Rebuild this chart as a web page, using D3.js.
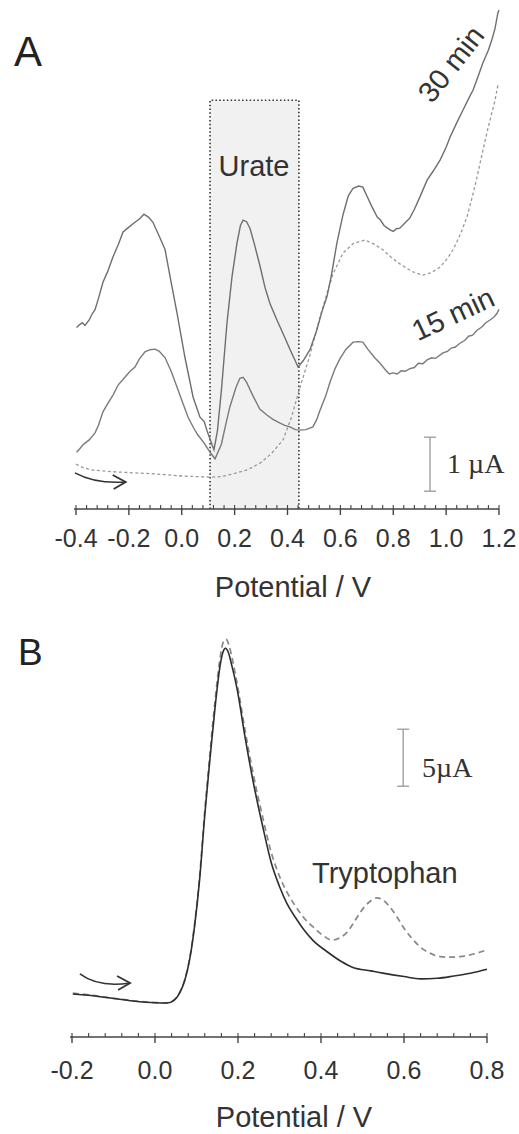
<!DOCTYPE html>
<html><head><meta charset="utf-8">
<script src="https://cdn.jsdelivr.net/npm/d3@7"></script>
<style>body{margin:0;background:#fff}svg{display:block}</style>
</head><body>
<svg id="c" width="519" height="1134"></svg>
<script>
// ---------- Panel A data (Potential V, current µA) ----------
const aTicks = [-0.4,-0.2,0.0,0.2,0.4,0.6,0.8,1.0,1.2];
const aTickLabels = ["-0.4","-0.2","0.0","0.2","0.4","0.6","0.8","1.0","1.2"];
const a30min = [[-0.398,3.36],[-0.385,3.42],[-0.376,3.45],[-0.366,3.40],[-0.350,3.50],[-0.338,3.62],[-0.328,3.69],[-0.315,3.90],[-0.298,4.20],[-0.280,4.40],[-0.260,4.67],[-0.240,4.90],[-0.222,5.13],[-0.200,5.22],[-0.177,5.31],[-0.160,5.37],[-0.143,5.46],[-0.125,5.40],[-0.109,5.31],[-0.085,5.05],[-0.063,4.80],[-0.044,4.30],[-0.018,3.63],[0.012,2.81],[0.043,2.07],[0.069,1.70],[0.085,1.62],[0.095,1.46],[0.114,1.20],[0.122,1.10],[0.135,1.45],[0.150,2.20],[0.171,3.44],[0.190,4.30],[0.209,4.93],[0.222,5.25],[0.232,5.35],[0.245,5.32],[0.258,5.20],[0.275,4.90],[0.296,4.50],[0.315,4.10],[0.334,3.80],[0.360,3.50],[0.383,3.25],[0.410,2.95],[0.440,2.63],[0.460,2.75],[0.485,2.95],[0.510,3.30],[0.530,3.65],[0.549,3.93],[0.565,4.30],[0.587,4.93],[0.610,5.45],[0.630,5.80],[0.648,5.94],[0.670,5.98],[0.685,5.96],[0.700,5.80],[0.720,5.59],[0.740,5.40],[0.750,5.36],[0.765,5.25],[0.788,5.17],[0.800,5.14],[0.812,5.19],[0.825,5.20],[0.845,5.30],[0.863,5.39],[0.880,5.55],[0.901,5.78],[0.928,6.09],[0.950,6.25],[0.977,6.46],[1.000,6.70],[1.015,6.89],[1.040,7.15],[1.064,7.39],[1.085,7.60],[1.102,7.76],[1.120,8.00],[1.139,8.26],[1.160,8.50],[1.173,8.69],[1.185,8.90],[1.196,9.19],[1.200,9.24]];
const a15min = [[-0.398,1.05],[-0.385,1.12],[-0.375,1.18],[-0.366,1.22],[-0.350,1.28],[-0.328,1.41],[-0.315,1.55],[-0.298,1.80],[-0.280,1.95],[-0.260,2.11],[-0.240,2.30],[-0.215,2.44],[-0.195,2.55],[-0.177,2.63],[-0.160,2.78],[-0.139,2.91],[-0.120,2.95],[-0.101,2.96],[-0.085,2.92],[-0.063,2.80],[-0.040,2.55],[-0.018,2.26],[0.005,1.95],[0.024,1.70],[0.045,1.50],[0.061,1.37],[0.085,1.22],[0.107,1.05],[0.126,0.93],[0.150,1.20],[0.168,1.60],[0.182,1.89],[0.205,2.25],[0.220,2.42],[0.232,2.44],[0.245,2.35],[0.269,2.10],[0.295,1.85],[0.322,1.74],[0.345,1.66],[0.372,1.59],[0.390,1.55],[0.409,1.52],[0.430,1.47],[0.447,1.46],[0.470,1.47],[0.496,1.52],[0.510,1.65],[0.523,1.83],[0.545,2.10],[0.561,2.35],[0.580,2.60],[0.598,2.78],[0.620,2.95],[0.648,3.09],[0.668,3.10],[0.685,3.09],[0.705,2.95],[0.730,2.80],[0.750,2.70],[0.770,2.58],[0.785,2.50],[0.799,2.52],[0.815,2.50],[0.830,2.56],[0.845,2.55],[0.863,2.60],[0.880,2.62],[0.895,2.70],[0.912,2.69],[0.928,2.76],[0.945,2.80],[0.960,2.79],[0.988,2.89],[1.005,2.92],[1.020,2.98],[1.035,3.00],[1.052,3.07],[1.070,3.12],[1.085,3.20],[1.100,3.22],[1.117,3.31],[1.135,3.37],[1.150,3.45],[1.166,3.50],[1.180,3.55],[1.192,3.62],[1.200,3.70]];
const aBlank = [[-0.400,0.83],[-0.370,0.76],[-0.336,0.72],[-0.260,0.69],[-0.184,0.67],[-0.100,0.65],[0.005,0.61],[0.060,0.60],[0.107,0.59],[0.150,0.60],[0.194,0.65],[0.250,0.73],[0.296,0.85],[0.340,1.03],[0.383,1.28],[0.415,1.70],[0.447,2.25],[0.485,2.85],[0.523,3.56],[0.550,4.00],[0.572,4.35],[0.610,4.74],[0.650,4.92],[0.693,4.98],[0.730,4.90],[0.761,4.80],[0.795,4.65],[0.825,4.54],[0.870,4.40],[0.912,4.33],[0.945,4.38],[0.977,4.48],[1.005,4.64],[1.026,4.80],[1.055,5.10],[1.079,5.41],[1.100,5.80],[1.117,6.15],[1.135,6.55],[1.154,6.96],[1.170,7.28],[1.185,7.57],[1.196,7.85]];
const urateWindow = [0.107, 0.443];
const urateTop = 7.57;

// ---------- Panel B data ----------
const bTicks = [-0.2,0.0,0.2,0.4,0.6,0.8];
const bTickLabels = ["-0.2","0.0","0.2","0.4","0.6","0.8"];
const bSolid = [[-0.198,3.77],[-0.150,3.62],[-0.100,3.38],[-0.053,3.16],[0.000,3.00],[0.029,2.98],[0.045,3.20],[0.060,3.90],[0.072,5.00],[0.084,6.90],[0.095,9.60],[0.108,14.0],[0.120,19.5],[0.133,24.6],[0.145,29.0],[0.157,32.6],[0.164,33.8],[0.170,34.1],[0.177,33.7],[0.185,32.6],[0.198,30.5],[0.217,26.3],[0.236,22.5],[0.260,18.4],[0.280,15.3],[0.300,13.2],[0.318,11.7],[0.340,10.4],[0.357,9.5],[0.380,8.5],[0.414,7.5],[0.450,6.6],[0.477,6.1],[0.520,5.8],[0.549,5.6],[0.600,5.3],[0.640,5.1],[0.680,5.15],[0.720,5.35],[0.760,5.6],[0.800,5.95]];
const bTrp = [[-0.198,3.85],[-0.150,3.65],[-0.100,3.40],[-0.053,3.18],[0.000,3.02],[0.029,3.00],[0.045,3.22],[0.060,3.95],[0.072,5.05],[0.084,7.00],[0.095,9.80],[0.108,14.3],[0.120,19.9],[0.133,25.1],[0.145,29.6],[0.157,33.3],[0.164,34.6],[0.171,34.9],[0.178,34.4],[0.186,33.2],[0.198,31.0],[0.217,26.9],[0.236,23.2],[0.260,19.2],[0.280,16.2],[0.300,14.1],[0.318,12.7],[0.340,11.4],[0.360,10.4],[0.381,9.65],[0.405,8.9],[0.427,8.5],[0.445,8.7],[0.463,9.2],[0.480,10.1],[0.494,10.9],[0.515,11.8],[0.535,12.2],[0.550,12.0],[0.566,11.4],[0.582,10.6],[0.598,9.65],[0.618,8.7],[0.639,7.9],[0.660,7.4],[0.687,7.05],[0.710,7.0],[0.735,7.05],[0.770,7.3],[0.800,7.65]];

const svg = d3.select("#c");
const FONT = "Liberation Sans, Arial, sans-serif";
const SERIF = "Liberation Serif, Times New Roman, serif";

function drawAxis(x, yPix, ticks, labels, minorStep, labelBase){
  const [d0,d1] = x.domain();
  const g = svg.append("g");
  const n = Math.round((d1-d0)/minorStep);
  const minors = d3.range(n+1).map(i => d0 + i*minorStep);
  g.append("line").attr("x1", x(d0)-2).attr("x2", x(d1)).attr("y1", yPix).attr("y2", yPix)
    .attr("stroke","#444").attr("stroke-width",1.6);
  g.selectAll(".mn").data(minors).join("line")
    .attr("x1", d=>x(d)).attr("x2", d=>x(d)).attr("y1", yPix).attr("y2", yPix-4)
    .attr("stroke","#444").attr("stroke-width",1.1);
  g.selectAll(".mj").data(ticks).join("line")
    .attr("x1", d=>x(d)).attr("x2", d=>x(d)).attr("y1", yPix).attr("y2", yPix+6)
    .attr("stroke","#444").attr("stroke-width",1.4);
  g.selectAll(".lb").data(ticks).join("text")
    .attr("x", d=>x(d)).attr("y", labelBase).attr("text-anchor","middle")
    .attr("font-family",FONT).attr("font-size",25).attr("fill","#333")
    .text((d,i)=>labels[i]);
}

// ---------- Panel A ----------
const xA = d3.scaleLinear().domain([-0.4,1.2]).range([76,499]);
const yA = d3.scaleLinear().domain([0,9.5]).range([509,509-9.5*54]);
const lineA = d3.line().x(d=>xA(d[0])).y(d=>yA(d[1])).curve(d3.curveLinear);

svg.append("rect").attr("x", xA(urateWindow[0])).attr("y", yA(urateTop))
  .attr("width", xA(urateWindow[1])-xA(urateWindow[0])).attr("height", yA(0)-yA(urateTop))
  .attr("fill","#f1f1f1");
const boxPath = d3.path();
boxPath.moveTo(xA(urateWindow[0]), yA(0));
boxPath.lineTo(xA(urateWindow[0]), yA(urateTop));
boxPath.lineTo(xA(urateWindow[1]), yA(urateTop));
boxPath.lineTo(xA(urateWindow[1]), yA(0));
svg.append("path").attr("d", boxPath.toString()).attr("fill","none")
  .attr("stroke","#333").attr("stroke-width",1.6).attr("stroke-dasharray","1.5,2.3");

svg.append("path").attr("d", lineA(aBlank)).attr("fill","none").attr("stroke","#999")
  .attr("stroke-width",1.3).attr("stroke-dasharray","3,2.5");
svg.append("path").attr("d", lineA(a15min)).attr("fill","none").attr("stroke","#7a7a7a").attr("stroke-width",1.4);
svg.append("path").attr("d", lineA(a30min)).attr("fill","none").attr("stroke","#6e6e6e").attr("stroke-width",1.4);

drawAxis(xA, 509, aTicks, aTickLabels, 0.04, 547);

svg.append("text").attr("x",14).attr("y",66).attr("font-family",FONT).attr("font-size",42).attr("fill","#222").text("A");
svg.append("text").attr("x",254).attr("y",176).attr("text-anchor","middle").attr("font-family",FONT).attr("font-size",29).attr("fill","#333").text("Urate");
svg.append("text").attr("transform","translate(451,64) rotate(-52)").attr("text-anchor","middle").attr("dominant-baseline","central")
  .attr("font-family",FONT).attr("font-size",29).attr("fill","#333").text("30 min");
svg.append("text").attr("transform","translate(453,314) rotate(-25)").attr("text-anchor","middle").attr("dominant-baseline","central")
  .attr("font-family",FONT).attr("font-size",29).attr("fill","#333").text("15 min");
svg.append("text").attr("x",293).attr("y",597).attr("text-anchor","middle").attr("font-family",FONT).attr("font-size",29).attr("fill","#333").text("Potential / V");

// scale bar A (1 µA)
const sbA = {x:0.939, y0:0.33, y1:1.33};
svg.append("line").attr("x1",xA(sbA.x)).attr("x2",xA(sbA.x)).attr("y1",yA(sbA.y0)).attr("y2",yA(sbA.y1)).attr("stroke","#999").attr("stroke-width",1.3);
[sbA.y0,sbA.y1].forEach(v=>svg.append("line").attr("x1",xA(sbA.x)-6).attr("x2",xA(sbA.x)+6).attr("y1",yA(v)).attr("y2",yA(v)).attr("stroke","#999").attr("stroke-width",1.3));
svg.append("text").attr("x",447).attr("y",473).attr("font-family",SERIF).attr("font-size",28).attr("fill","#333").text("1 µA");

function arrow(x, y, p0, p1, c){
  const p = d3.path();
  p.moveTo(x(p0[0]), y(p0[1]));
  p.quadraticCurveTo(x(c[0]), y(c[1]), x(p1[0]), y(p1[1]));
  svg.append("path").attr("d", p.toString()).attr("fill","none").attr("stroke","#333").attr("stroke-width",1.5);
  const ex = x(p1[0]), ey = y(p1[1]);
  const h = d3.path();
  h.moveTo(ex-13, ey-7); h.lineTo(ex, ey); h.lineTo(ex-12, ey+7);
  svg.append("path").attr("d", h.toString()).attr("fill","none").attr("stroke","#333").attr("stroke-width",1.8);
}
arrow(xA, yA, [-0.404,0.67], [-0.212,0.50], [-0.325,0.46]);

// ---------- Panel B ----------
const xB = d3.scaleLinear().domain([-0.2,0.8]).range([72,487]);
const yB = d3.scaleLinear().domain([0,40]).range([1037,1037-40*11.4]);
const lineB = d3.line().x(d=>xB(d[0])).y(d=>yB(d[1])).curve(d3.curveMonotoneX);

svg.append("path").attr("d", lineB(bTrp)).attr("fill","none").attr("stroke","#888")
  .attr("stroke-width",1.7).attr("stroke-dasharray","6,4");
svg.append("path").attr("d", lineB(bSolid)).attr("fill","none").attr("stroke","#2e2e2e").attr("stroke-width",1.6);

drawAxis(xB, 1037, bTicks, bTickLabels, 0.04, 1079);

svg.append("text").attr("x",18).attr("y",665).attr("font-family",FONT).attr("font-size",37).attr("fill","#222").text("B");
svg.append("text").attr("x",312).attr("y",883).attr("font-family",FONT).attr("font-size",29).attr("fill","#333").text("Tryptophan");
svg.append("text").attr("x",294).attr("y",1127).attr("text-anchor","middle").attr("font-family",FONT).attr("font-size",29).attr("fill","#333").text("Potential / V");

const sbB = {x:0.598, y0:22.0, y1:27.0};
svg.append("line").attr("x1",xB(sbB.x)).attr("x2",xB(sbB.x)).attr("y1",yB(sbB.y0)).attr("y2",yB(sbB.y1)).attr("stroke","#999").attr("stroke-width",1.3);
[sbB.y0,sbB.y1].forEach(v=>svg.append("line").attr("x1",xB(sbB.x)-6).attr("x2",xB(sbB.x)+6).attr("y1",yB(v)).attr("y2",yB(v)).attr("stroke","#999").attr("stroke-width",1.3));
svg.append("text").attr("x",422).attr("y",777).attr("font-family",SERIF).attr("font-size",28).attr("fill","#333").text("5µA");

arrow(xB, yB, [-0.181,5.53], [-0.060,4.74], [-0.135,4.3]);
</script>
</body></html>
